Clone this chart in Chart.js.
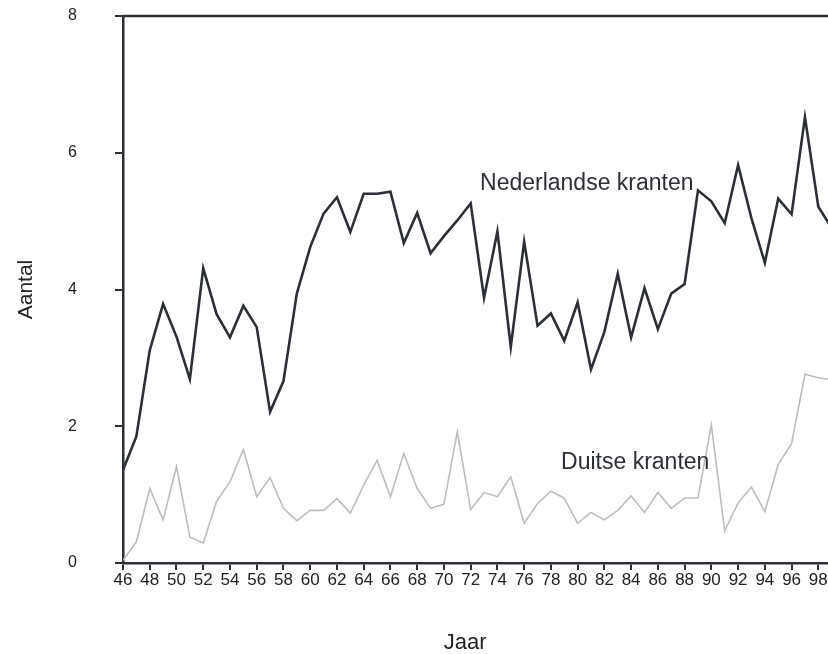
<!DOCTYPE html>
<html lang="nl">
<head>
    <meta charset="UTF-8">
    <title>Nederlandse en Duitse kranten</title>
    <script src="https://cdn.jsdelivr.net/npm/chart.js"></script>
    <style>
        html, body {
            margin: 0;
            padding: 0;
            background: #fff;
            overflow: hidden;
        }
        #chart {
            display: block;
        }
    </style>
</head>
<body>
    <canvas id="chart" width="840" height="654"></canvas>
    <script>
        // jaren (19xx)
        const years = [46, 47, 48, 49, 50, 51, 52, 53, 54, 55, 56, 57, 58, 59, 60, 61, 62, 63,
            64, 65, 66, 67, 68, 69, 70, 71, 72, 73, 74, 75, 76, 77, 78, 79, 80, 81,
            82, 83, 84, 85, 86, 87, 88, 89, 90, 91, 92, 93, 94, 95, 96, 97, 98, 99];

        const nederlands = [1.36, 1.85, 3.11, 3.79, 3.31, 2.69, 4.31, 3.64, 3.30, 3.76, 3.45, 2.21, 2.66, 3.94, 4.62, 5.11, 5.35, 4.84,
            5.40, 5.40, 5.43, 4.68, 5.12, 4.53, 4.78, 5.01, 5.26, 3.88, 4.85, 3.16, 4.70, 3.47, 3.65, 3.25, 3.81, 2.83,
            3.38, 4.23, 3.30, 4.02, 3.42, 3.94, 4.08, 5.45, 5.29, 4.97, 5.82, 5.04, 4.39, 5.33, 5.10, 6.52, 5.21, 4.90];

        const duits = [0.04, 0.31, 1.09, 0.63, 1.41, 0.38, 0.29, 0.90, 1.19, 1.66, 0.97, 1.25, 0.80, 0.62, 0.77, 0.77, 0.94, 0.73,
            1.14, 1.50, 0.97, 1.60, 1.09, 0.80, 0.86, 1.92, 0.78, 1.03, 0.97, 1.26, 0.58, 0.87, 1.05, 0.95, 0.58, 0.74,
            0.63, 0.77, 0.98, 0.74, 1.03, 0.80, 0.95, 0.95, 2.02, 0.47, 0.88, 1.11, 0.75, 1.44, 1.75, 2.76, 2.71, 2.68];

        const yTicks = [0, 2, 4, 6, 8];

        // tekstlabels in de grafiek: [tekst, jaar, waarde]
        const seriesLabels = [
            ['Nederlandse kranten', 72.7, 5.45],
            ['Duitse kranten', 78.76, 1.37]
        ];

        const ink = '#2c2f35';
        const font = 'Liberation Sans, Arial, sans-serif';

        const toPoints = vals => years.map((y, i) => ({ x: y, y: vals[i] }));

        // bovenrand en labels bij de lijnen
        const extras = {
            id: 'extras',
            afterDraw(chart) {
                const { ctx, chartArea, scales } = chart;
                ctx.save();
                ctx.strokeStyle = ink;
                ctx.lineWidth = 2.5;
                ctx.beginPath();
                ctx.moveTo(chartArea.left, chartArea.top);
                ctx.lineTo(chartArea.right, chartArea.top);
                ctx.stroke();

                ctx.fillStyle = ink;
                ctx.font = '23px ' + font;
                ctx.textAlign = 'left';
                ctx.textBaseline = 'alphabetic';
                seriesLabels.forEach(([text, x, y]) => {
                    ctx.fillText(text, scales.x.getPixelForValue(x), scales.y.getPixelForValue(y));
                });
                ctx.restore();
            }
        };

        new Chart(document.getElementById('chart'), {
            type: 'line',
            data: {
                datasets: [
                    {
                        label: 'Nederlandse kranten',
                        data: toPoints(nederlands),
                        borderColor: ink,
                        borderWidth: 2.6,
                        pointRadius: 0,
                        tension: 0
                    },
                    {
                        label: 'Duitse kranten',
                        data: toPoints(duits),
                        borderColor: '#bdbdbd',
                        borderWidth: 1.6,
                        pointRadius: 0,
                        tension: 0
                    }
                ]
            },
            options: {
                responsive: false,
                animation: false,
                devicePixelRatio: 1,
                layout: { padding: { top: 16, right: 8.3, left: 0, bottom: 0 } },
                plugins: {
                    legend: { display: false },
                    tooltip: { enabled: false }
                },
                scales: {
                    x: {
                        type: 'linear',
                        min: 46,
                        max: 99,
                        afterBuildTicks(axis) {
                            axis.ticks = years.filter(y => y % 2 === 0).map(v => ({ value: v }));
                        },
                        afterFit(scale) { scale.height = 91; },
                        border: { color: ink, width: 2.5 },
                        grid: { drawOnChartArea: false, drawTicks: true, tickLength: 7, color: ink, lineWidth: 2 },
                        ticks: {
                            autoSkip: false,
                            maxRotation: 0,
                            padding: 0,
                            color: '#222',
                            font: { family: font, size: 17 }
                        },
                        title: {
                            display: true,
                            // titel staat in het origineel iets links van het midden
                            text: 'Jaar\u00a0\u00a0\u00a0\u00a0',
                            color: '#222',
                            font: { family: font, size: 22, lineHeight: 1 },
                            padding: { top: 0, bottom: 0 }
                        }
                    },
                    y: {
                        min: 0,
                        max: 8,
                        afterBuildTicks(axis) {
                            axis.ticks = yTicks.map(v => ({ value: v }));
                        },
                        afterFit(scale) {
                            scale.width = 123;
                            scale.paddingTop = 0;
                            scale.paddingBottom = 0;
                        },
                        border: { color: ink, width: 2.5 },
                        grid: { drawOnChartArea: false, drawTicks: true, tickLength: 8, color: ink, lineWidth: 2 },
                        ticks: {
                            padding: 38,
                            color: '#222',
                            font: { family: font, size: 16 }
                        },
                        title: {
                            display: true,
                            text: 'Aantal',
                            color: '#222',
                            font: { family: font, size: 21, lineHeight: 1 },
                            padding: { top: 16, bottom: 0 }
                        }
                    }
                }
            },
            plugins: [extras]
        });
    </script>
</body>
</html>
